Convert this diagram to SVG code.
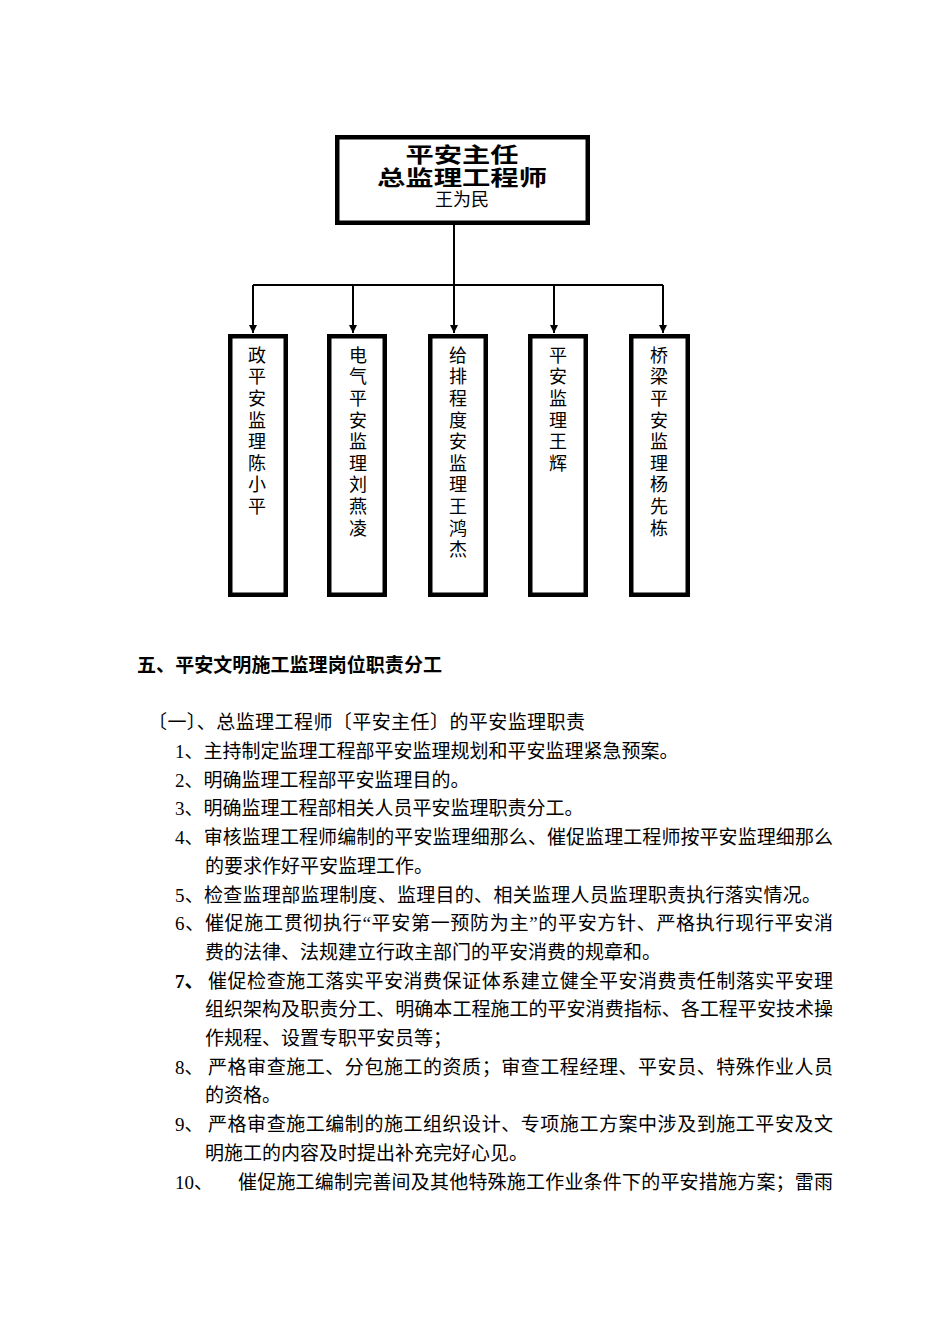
<svg xmlns="http://www.w3.org/2000/svg" width="950" height="1344" viewBox="0 0 950 1344">
<style>
.t{font-family:"Liberation Serif","Noto Sans CJK SC",serif;font-size:19px;fill:#000}
.b{font-weight:bold}
.box{fill:#fff;stroke:#000;stroke-width:4.5}
.ttl{font-family:"Noto Sans CJK SC",sans-serif;font-size:21px;font-weight:bold;fill:#000;text-anchor:middle}
.nm{font-family:"Noto Sans CJK SC",sans-serif;font-size:18px;fill:#000;text-anchor:middle}
.v{font-family:"Noto Sans CJK SC",sans-serif;font-size:18px;fill:#000;writing-mode:vertical-rl;text-orientation:upright;letter-spacing:3.6px}
.ln{fill:none;stroke:#000;stroke-width:2}
</style>
<defs>
<marker id="ah" viewBox="0 0 10 10" refX="10" refY="5" markerWidth="8" markerHeight="9" markerUnits="userSpaceOnUse" orient="auto">
<path d="M0,0 L10,5 L0,10 Z" fill="#000"/>
</marker>
</defs>
<rect width="950" height="1344" fill="#fff"/>

<g id="connectors">
<path class="ln" d="M454,225 V285"/>
<path class="ln" d="M253,285 H663"/>
<path class="ln" d="M253,285 V333" marker-end="url(#ah)"/>
<path class="ln" d="M353,285 V333" marker-end="url(#ah)"/>
<path class="ln" d="M454,285 V333" marker-end="url(#ah)"/>
<path class="ln" d="M554,285 V333" marker-end="url(#ah)"/>
<path class="ln" d="M663,285 V333" marker-end="url(#ah)"/>
</g>

<g id="node-chief">
<rect class="box" x="337.25" y="137.25" width="250.5" height="85.5"/>
<text class="ttl" x="462" y="162" textLength="113" lengthAdjust="spacingAndGlyphs">平安主任</text>
<text class="ttl" x="462" y="184.5" textLength="170" lengthAdjust="spacingAndGlyphs">总监理工程师</text>
<text class="nm" x="462" y="205.5">王为民</text>
</g>

<g id="node-1">
<rect class="box" x="230.25" y="336.25" width="55.5" height="258.5"/>
<text class="v" x="257" y="346">政平安监理陈小平</text>
</g>
<g id="node-2">
<rect class="box" x="329.25" y="336.25" width="55.5" height="258.5"/>
<text class="v" x="358" y="346">电气平安监理刘燕凌</text>
</g>
<g id="node-3">
<rect class="box" x="430.25" y="336.25" width="55.5" height="258.5"/>
<text class="v" x="458" y="346">给排程度安监理王鸿杰</text>
</g>
<g id="node-4">
<rect class="box" x="530.25" y="336.25" width="55.5" height="258.5"/>
<text class="v" x="558" y="346">平安监理王辉</text>
</g>
<g id="node-5">
<rect class="box" x="631.25" y="336.25" width="56.5" height="258.5"/>
<text class="v" x="659" y="346">桥梁平安监理杨先栋</text>
</g>

<g id="body-text">
<text class="t b" x="137" y="672" textLength="305" lengthAdjust="spacing">五、平安文明施工监理岗位职责分工</text>
<text class="t" x="148" y="728.5" textLength="437" lengthAdjust="spacing">〔一〕、总监理工程师〔平安主任〕的平安监理职责</text>
<text class="t" x="175" y="758">1、主持制定监理工程部平安监理规划和平安监理紧急预案。</text>
<text class="t" x="175" y="786.7">2、明确监理工程部平安监理目的。</text>
<text class="t" x="175" y="815.4">3、明确监理工程部相关人员平安监理职责分工。</text>
<text class="t" x="175" y="844.1" textLength="658" lengthAdjust="spacing">4、审核监理工程师编制的平安监理细那么、催促监理工程师按平安监理细那么</text>
<text class="t" x="205" y="872.8">的要求作好平安监理工作。</text>
<text class="t" x="175" y="901.5" textLength="646" lengthAdjust="spacing">5、检查监理部监理制度、监理目的、相关监理人员监理职责执行落实情况。</text>
<text class="t" x="175" y="930.2" textLength="658" lengthAdjust="spacing">6、催促施工贯彻执行“平安第一预防为主”的平安方针、严格执行现行平安消</text>
<text class="t" x="205" y="958.9">费的法律、法规建立行政主部门的平安消费的规章和。</text>
<text class="t b" x="175" y="987.6">7、</text>
<text class="t" x="208" y="987.6" textLength="625" lengthAdjust="spacing">催促检查施工落实平安消费保证体系建立健全平安消费责任制落实平安理</text>
<text class="t" x="205" y="1016.3" textLength="628" lengthAdjust="spacing">组织架构及职责分工、明确本工程施工的平安消费指标、各工程平安技术操</text>
<text class="t" x="205" y="1045">作规程、设置专职平安员等；</text>
<text class="t" x="175" y="1073.7">8、</text>
<text class="t" x="208" y="1073.7" textLength="625" lengthAdjust="spacing">严格审查施工、分包施工的资质；审查工程经理、平安员、特殊作业人员</text>
<text class="t" x="205" y="1102.4">的资格。</text>
<text class="t" x="175" y="1131.1">9、</text>
<text class="t" x="208" y="1131.1" textLength="625" lengthAdjust="spacing">严格审查施工编制的施工组织设计、专项施工方案中涉及到施工平安及文</text>
<text class="t" x="205" y="1159.8">明施工的内容及时提出补充完好心见。</text>
<text class="t" x="175" y="1188.5">10、</text>
<text class="t" x="238" y="1188.5" textLength="595" lengthAdjust="spacing">催促施工编制完善间及其他特殊施工作业条件下的平安措施方案；雷雨</text>
</g>
</svg>
